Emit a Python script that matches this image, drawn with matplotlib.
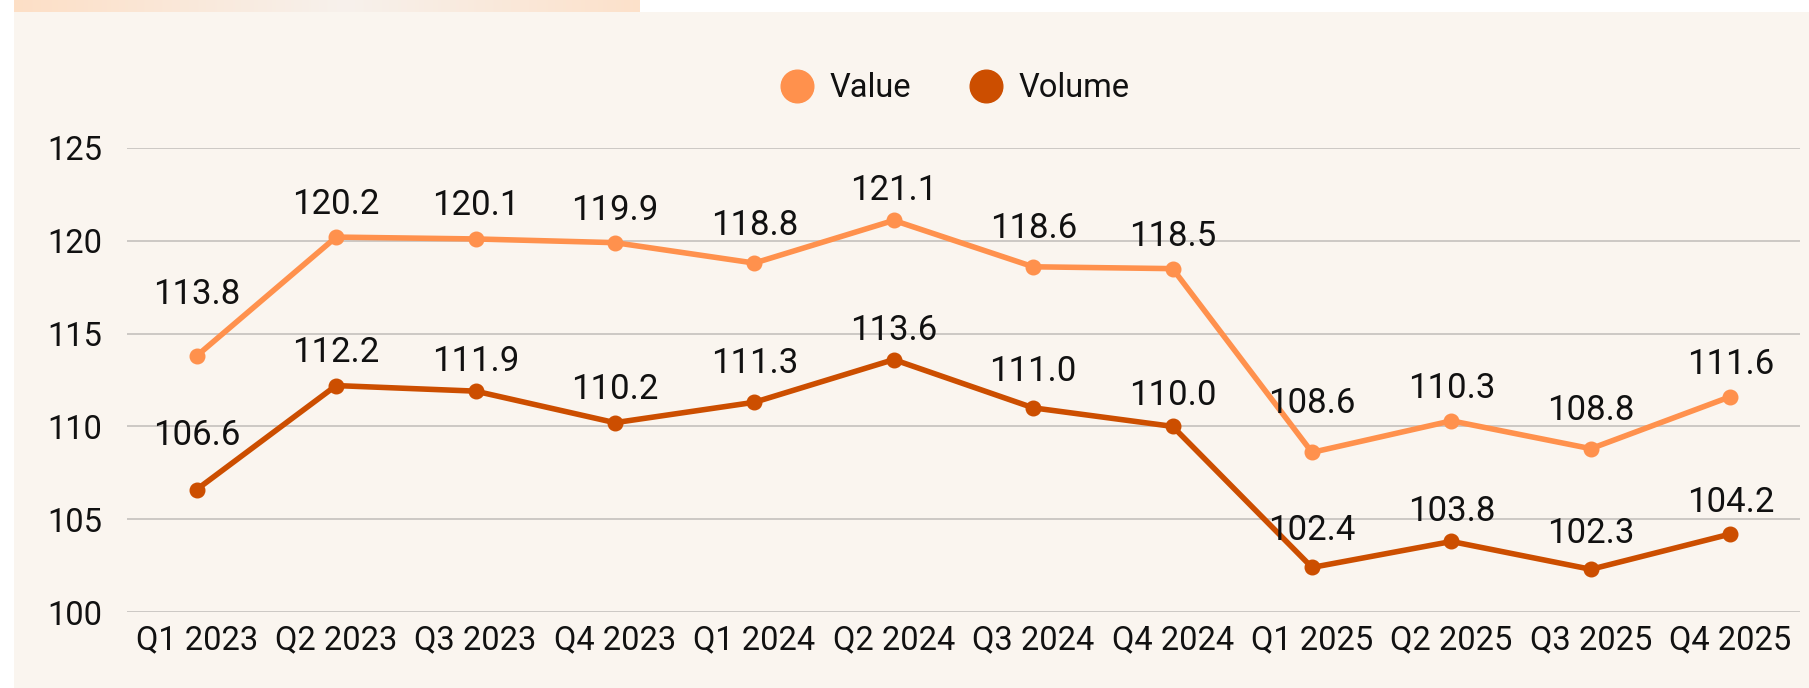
import matplotlib
matplotlib.use("Agg")
import matplotlib.pyplot as plt
from matplotlib.lines import Line2D
from matplotlib.patches import Rectangle
import numpy as np

plt.rcParams['font.family'] = ['Roboto', 'DejaVu Sans']

# --- Data ---
quarters = ["Q1 2023", "Q2 2023", "Q3 2023", "Q4 2023",
            "Q1 2024", "Q2 2024", "Q3 2024", "Q4 2024",
            "Q1 2025", "Q2 2025", "Q3 2025", "Q4 2025"]
value = [113.8, 120.2, 120.1, 119.9, 118.8, 121.1, 118.6, 118.5, 108.6, 110.3, 108.8, 111.6]
volume = [106.6, 112.2, 111.9, 110.2, 111.3, 113.6, 111.0, 110.0, 102.4, 103.8, 102.3, 104.2]
y_ticks = [100, 105, 110, 115, 120, 125]

# label offsets above each point (pixels), as placed in the original
value_label_px = [61, 33, 33, 32, 38, 30, 38, 32, 49, 32, 38, 32]
volume_label_px = [54, 33, 30, 33, 39, 29, 36, 31, 37, 30, 36, 32]

# --- Style ---
W, H = 1809, 688
DPI = 100
PANEL_BG = '#FAF5EF'
VALUE_COLOR = '#FF914D'
VOLUME_COLOR = '#CC4E00'
GRID_COLOR = '#C9C5C1'
TEXT_COLOR = '#111111'
FS = 23.5
LABEL_FS = 25

fig = plt.figure(figsize=(W / DPI, H / DPI), dpi=DPI, facecolor='white')

# beige panel behind the chart
fig.patches.append(Rectangle((14 / W, -0.01), 1 - 14 / W + 0.01, 1 - 12 / H + 0.01,
                             transform=fig.transFigure, facecolor=PANEL_BG,
                             edgecolor='none', zorder=-10))

# gradient strip in the top-left corner
strip_ax = fig.add_axes([14 / W, 1 - 12 / H, 626 / W, 12 / H])
t = np.linspace(0, 1, 400)
peach = np.array([253, 223, 198]) / 255
light = np.array([247, 241, 236]) / 255
mix = 1 - np.abs(t - 0.53) / 0.53
mix = np.clip(mix, 0, 1)
grad = peach[None, :] * (1 - mix[:, None]) + light[None, :] * mix[:, None]
strip_ax.imshow(grad[None, :, :], aspect='auto', extent=[0, 1, 0, 1])
strip_ax.axis('off')

# main axes
ax = fig.add_axes([127 / W, 1 - 612 / H, (1800 - 127) / W, (612 - 148) / H])
ax.set_facecolor('none')
x = np.arange(len(quarters))

ax.plot(x, value, color=VALUE_COLOR, lw=4.0, marker='o', markersize=10.5,
        solid_capstyle='round', zorder=3)
ax.plot(x, volume, color=VOLUME_COLOR, lw=4.0, marker='o', markersize=10.5,
        solid_capstyle='round', zorder=3)

for xi, v, off in zip(x, value, value_label_px):
    ax.annotate(f"{v:.1f}", (xi, v), xytext=(0, off * 72 / DPI),
                textcoords='offset points', ha='center', va='center',
                fontsize=LABEL_FS, color=TEXT_COLOR, zorder=4)
for xi, v, off in zip(x, volume, volume_label_px):
    ax.annotate(f"{v:.1f}", (xi, v), xytext=(0, off * 72 / DPI),
                textcoords='offset points', ha='center', va='center',
                fontsize=LABEL_FS, color=TEXT_COLOR, zorder=4)

ax.set_xlim(-0.5, len(quarters) - 0.5)
ax.set_ylim(100, 125)
ax.set_yticks(y_ticks)
ax.set_xticks(x)
ax.set_xticklabels(quarters)
ax.grid(axis='y', color=GRID_COLOR, lw=1.3, zorder=1)
ax.set_axisbelow(True)
for s in ax.spines.values():
    s.set_visible(False)
ax.tick_params(axis='both', length=0, labelsize=FS, labelcolor=TEXT_COLOR)
ax.tick_params(axis='y', pad=18)
ax.tick_params(axis='x', pad=9)

# legend
handles = [Line2D([], [], color=VALUE_COLOR, marker='o', linestyle='none', markersize=23.5),
           Line2D([], [], color=VOLUME_COLOR, marker='o', linestyle='none', markersize=23.5)]
leg = fig.legend(handles, ["Value", "Volume"], loc='center',
                 bbox_to_anchor=(955 / W, 1 - 88 / H), ncol=2, frameon=False,
                 fontsize=FS, handlelength=1.0, handletextpad=0.5,
                 columnspacing=1.8)
for txt in leg.get_texts():
    txt.set_color(TEXT_COLOR)

fig.savefig('out.png', dpi=DPI, facecolor=fig.get_facecolor())
